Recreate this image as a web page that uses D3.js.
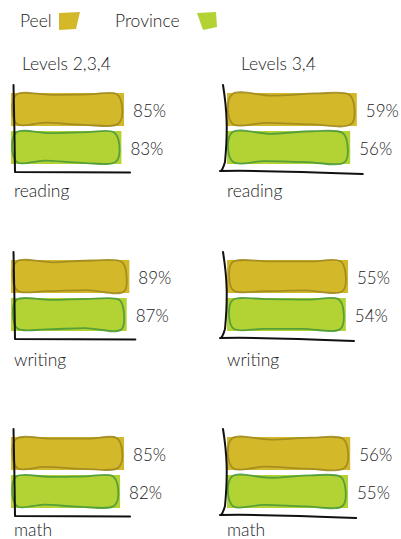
<!DOCTYPE html>
<html><head><meta charset="utf-8">
<script src="https://cdn.jsdelivr.net/npm/d3@7/dist/d3.min.js"></script>
<style>
html,body{margin:0;padding:0;background:#fff;}
svg{display:block;}
text{font-family:Lato,"Open Sans",sans-serif;font-weight:300;fill:#222;}
</style></head>
<body>
<script>
// ---- data ----
const categories = ["reading", "writing", "math"];
const levelTitles = ["Levels 2,3,4", "Levels 3,4"];
const seriesNames = ["Peel", "Province"];
const peelLevels234 = [85, 89, 85];
const provinceLevels234 = [83, 87, 82];
const peelLevels34 = [59, 55, 56];
const provinceLevels34 = [56, 54, 55];

// ---- layout / style ----
const W = 401, H = 539;
const fillColors = ["#d3b82a", "#b3d335"];
const strokeColors = ["#a08a1e", "#4b9a38"];
const colX = [11, 227];
const rowTop = [93, 260, 437];
const labelY = [197, 366, 536];
const barH = 33, barGap = 5;

const svg = d3.select("body").append("svg").attr("width", W).attr("height", H);

const xScales = [
  d3.scaleLinear().domain([0, 100]).range([0, 133]),
  d3.scaleLinear().domain([0, 60]).range([0, 132])
];
const values = [[peelLevels234, provinceLevels234], [peelLevels34, provinceLevels34]];

// legend
const legendX = [20, 115];
const swatches = [
  [[59,13],[80,12],[76,29],[59,30]],
  [[197,13],[216,12],[217,27],[203,30]]
];
seriesNames.forEach((s, i) => {
  svg.append("text").attr("x", legendX[i]).attr("y", 27).attr("font-size", 17.5).text(s);
  svg.append("path").attr("d", "M" + swatches[i].join("L") + "Z").attr("fill", fillColors[i]);
});

const titleX = [22, 241];
levelTitles.forEach((t, i) => {
  svg.append("text").attr("x", titleX[i]).attr("y", 70).attr("font-size", 17.5).text(t);
});

function wob(seed, k) { return Math.sin(seed * 12.9898 + k * 78.233); }

function roughRect(x, y, w, h, seed) {
  const pts = [
    [x + 4, y + wob(seed, 1) * 0.6],
    [x + w * 0.35, y + 0.5 + wob(seed, 2) * 0.8],
    [x + w * 0.7, y - 0.5 + wob(seed, 3) * 0.8],
    [x + w - 5, y + wob(seed, 4) * 0.6],
    [x + w + wob(seed, 5) * 0.6, y + h * 0.4],
    [x + w - 3, y + h + wob(seed, 6) * 0.5],
    [x + w * 0.65, y + h + wob(seed, 7) * 0.9],
    [x + w * 0.3, y + h - 0.5 + wob(seed, 8) * 0.9],
    [x + 5, y + h + wob(seed, 9) * 0.5],
    [x + wob(seed, 10) * 0.6, y + h * 0.5]
  ];
  return d3.line().curve(d3.curveCatmullRomClosed.alpha(0.5))(pts);
}

categories.forEach((cat, r) => {
  [0, 1].forEach(c => {
    const g = svg.append("g");
    const x0 = colX[c];
    const xs = xScales[c];
    const top = rowTop[r];
    const axisY = top + 2 * barH + barGap + 8;
    let maxEnd = x0;
    [0, 1].forEach(s => {
      const v = values[c][s][r];
      const w = xs(v);
      const y = top + s * (barH + barGap);
      maxEnd = Math.max(maxEnd, x0 + w);
      g.append("rect").attr("x", x0).attr("y", y).attr("width", w).attr("height", barH)
        .attr("fill", fillColors[s]);
      g.append("path").attr("d", roughRect(x0 + 1.5, y + 1.5, w - 4, barH - 3.5, r * 7 + c * 3 + s + 1))
        .attr("fill", "none").attr("stroke", strokeColors[s]).attr("stroke-width", 1.8)
        .attr("stroke-opacity", 0.9).attr("stroke-linejoin", "round");
      g.append("text").attr("x", x0 + w + 9).attr("y", y + barH / 2 + 7)
        .attr("font-size", 17).text(v + "%");
    });
    const ax = x0 + (c === 0 ? 3 : -4);
    const axTop = top - 8;
    let d;
    if (c === 0) {
      d = `M${ax - 0.5},${axTop} Q${ax + 0.5},${(axTop + axisY) / 2} ${ax + 1},${axisY} L${maxEnd + 6},${axisY + 0.5}`;
    } else {
      d = `M${ax},${axTop} C${ax + 4},${axTop + 25} ${ax + 5},${axTop + 45} ${ax + 2},${axisY - 10} Q${ax - 1},${axisY} ${ax - 3},${axisY - 1} Q${ax + 40},${axisY - 2} ${maxEnd + 6},${axisY + 2}`;
    }
    g.append("path").attr("d", d).attr("fill", "none").attr("stroke", "#111")
      .attr("stroke-width", 2).attr("stroke-linecap", "round").attr("stroke-linejoin", "round");
    g.append("text").attr("x", x0 + (c === 0 ? 3 : 0)).attr("y", labelY[r]).attr("font-size", 17.5).text(cat);
  });
});
</script>
</body></html>
